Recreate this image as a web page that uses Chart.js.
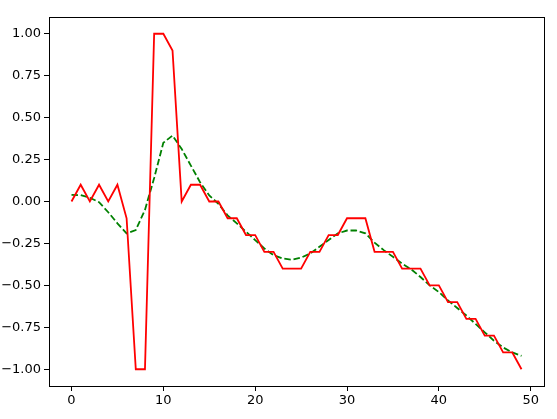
<!DOCTYPE html>
<html>
<head>
<meta charset="utf-8">
<script src="https://cdn.jsdelivr.net/npm/chart.js@4/dist/chart.umd.min.js"></script>
<style>
html,body{margin:0;padding:0;background:#fff;}
#wrap{width:557px;height:419px;position:relative;}
</style>
</head>
<body>
<div id="wrap"><canvas id="c" width="557" height="419"></canvas></div>
<script>
const xValues = Array.from({length: 50}, (_, i) => i);
const rawSignal = [0.0, 0.1, 0.0, 0.1, 0.0, 0.1, -0.1, -1.0, -1.0, 1.0,
  1.0, 0.9, 0.0, 0.1, 0.1, 0.0, 0.0, -0.1, -0.1, -0.2,
  -0.2, -0.3, -0.3, -0.4, -0.4, -0.4, -0.3, -0.3, -0.2, -0.2,
  -0.1, -0.1, -0.1, -0.3, -0.3, -0.3, -0.4, -0.4, -0.4, -0.5,
  -0.5, -0.6, -0.6, -0.7, -0.7, -0.8, -0.8, -0.9, -0.9, -1.0];
const smoothSignal = [0.04, 0.038, 0.022, -0.004, -0.064, -0.13, -0.19, -0.17, -0.05, 0.14,
  0.35, 0.393, 0.313, 0.214, 0.115, 0.036, -0.014, -0.083, -0.13, -0.18,
  -0.23, -0.28, -0.32, -0.34, -0.347, -0.335, -0.31, -0.27, -0.23, -0.19,
  -0.173, -0.173, -0.19, -0.245, -0.29, -0.33, -0.37, -0.405, -0.45, -0.5,
  -0.54, -0.59, -0.635, -0.68, -0.73, -0.78, -0.83, -0.87, -0.90, -0.92];
const xTicks = [0, 10, 20, 30, 40, 50];
const yTicks = [-1.0, -0.75, -0.5, -0.25, 0.0, 0.25, 0.5, 0.75, 1.0];

const fmtY = v => (v < 0 ? '\u2212' : '') + Math.abs(v).toFixed(2);

const frame = {
  id: 'frame',
  afterDraw(chart) {
    const a = chart.chartArea, ctx = chart.ctx;
    ctx.save();
    ctx.strokeStyle = '#000';
    ctx.lineWidth = 1;
    ctx.strokeRect(Math.round(a.left) + 0.5, Math.round(a.top) + 0.5,
      Math.round(a.right - a.left), Math.round(a.bottom - a.top));
    ctx.restore();
  }
};

new Chart(document.getElementById('c'), {
  type: 'line',
  data: {
    datasets: [
      {
        data: xValues.map((x, i) => ({x: x, y: rawSignal[i]})),
        borderColor: '#ff0000',
        borderWidth: 1.8,
        pointRadius: 0,
        tension: 0,
        fill: false
      },
      {
        data: xValues.map((x, i) => ({x: x, y: smoothSignal[i]})),
        borderColor: '#008000',
        borderWidth: 1.8,
        borderDash: [6.5, 2.8],
        pointRadius: 0,
        tension: 0,
        fill: false
      }
    ]
  },
  options: {
    responsive: false,
    animation: false,
    devicePixelRatio: 1,
    layout: {padding: {left: 0, right: 13, top: 17, bottom: 0}},
    plugins: {legend: {display: false}, tooltip: {enabled: false}},
    scales: {
      x: {
        type: 'linear',
        min: -2.45,
        max: 51.45,
        afterBuildTicks: s => { s.ticks = xTicks.map(v => ({value: v})); },
        afterFit: s => { s.height = 33; },
        grid: {drawOnChartArea: false, drawTicks: true, tickLength: 5, color: '#000', tickWidth: 1},
        border: {display: true, color: '#000', width: 1},
        ticks: {color: '#000', font: {family: 'DejaVu Sans', size: 13}, padding: 2, maxRotation: 0,
          callback: v => String(v)}
      },
      y: {
        type: 'linear',
        min: -1.1,
        max: 1.1,
        afterBuildTicks: s => { s.ticks = yTicks.map(v => ({value: v})); },
        afterFit: s => { s.width = 49; },
        grid: {drawOnChartArea: false, drawTicks: true, tickLength: 5, color: '#000', tickWidth: 1},
        border: {display: true, color: '#000', width: 1},
        ticks: {color: '#000', font: {family: 'DejaVu Sans', size: 13}, padding: 3,
          callback: v => fmtY(v)}
      }
    }
  },
  plugins: [frame]
});
</script>
</body>
</html>
